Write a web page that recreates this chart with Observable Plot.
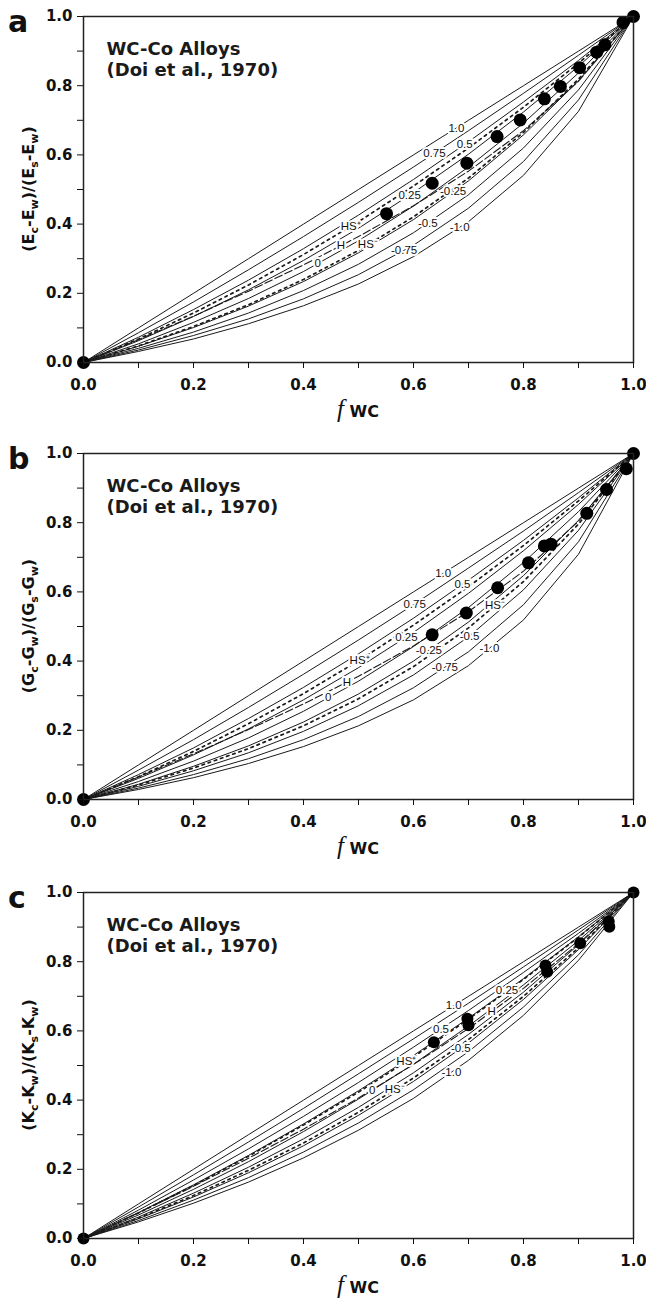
<!DOCTYPE html>
<html><head><meta charset="utf-8">
<script src="https://cdn.jsdelivr.net/npm/d3@7"></script>
<script src="https://cdn.jsdelivr.net/npm/@observablehq/plot@0.6"></script>
<style>
body{margin:0;background:#fff;}
#chart{width:646px;}
#chart svg{display:block;}
</style></head><body><div id="chart"></div>
<script>
// volume fraction of WC at which every curve is given
const fSteps = [0, 0.1, 0.2, 0.3, 0.4, 0.5, 0.6, 0.7, 0.8, 0.9, 1];
const curveKeys = ["1.0","0.75","0.5","0.25","0","-0.25","-0.5","-0.75","-1.0","HS+","H","HS-"];

// ---- panel a : Young's modulus, (Ec-Ew)/(Es-Ew)
const E_p100 = [0,0.100,0.200,0.300,0.400,0.500,0.600,0.700,0.800,0.900,1];
const E_p075 = [0,0.086,0.175,0.268,0.364,0.463,0.565,0.670,0.778,0.888,1];
const E_p050 = [0,0.073,0.153,0.238,0.329,0.426,0.529,0.638,0.753,0.873,1];
const E_p025 = [0,0.063,0.133,0.210,0.295,0.388,0.491,0.602,0.724,0.856,1];
const E_000  = [0,0.054,0.116,0.185,0.263,0.352,0.452,0.565,0.692,0.837,1];
const E_m025 = [0,0.047,0.101,0.163,0.234,0.317,0.413,0.525,0.658,0.814,1];
const E_m050 = [0,0.041,0.088,0.143,0.208,0.284,0.375,0.485,0.620,0.788,1];
const E_m075 = [0,0.036,0.078,0.126,0.184,0.254,0.339,0.446,0.581,0.759,1];
const E_m100 = [0,0.032,0.068,0.112,0.164,0.227,0.306,0.407,0.541,0.726,1];
const E_HSp  = [0,0.068,0.143,0.224,0.312,0.407,0.510,0.620,0.738,0.865,1];
const E_H    = [0,0.066,0.134,0.206,0.282,0.364,0.453,0.553,0.670,0.813,1];
const E_HSm  = [0,0.048,0.104,0.167,0.240,0.324,0.421,0.533,0.665,0.819,1];
const E_dotF = [0,0.551,0.634,0.697,0.752,0.794,0.838,0.867,0.902,0.933,0.948,0.981,1];
const E_dotV = [0,0.430,0.518,0.576,0.653,0.701,0.762,0.798,0.852,0.897,0.918,0.983,1];
const E_labText = ["1.0","0.75","0.5","0.25","-0.25","-0.5","-0.75","-1.0","HS\u207A","H","HS\u207B","0"];
const E_labKey  = ["1.0","0.75","0.5","0.25","-0.25","-0.5","-0.75","-1.0","HS+","H","HS-","0"];
const E_labF    = [0.678,0.638,0.693,0.593,0.672,0.626,0.583,0.684,0.486,0.468,0.517,0.426];

// ---- panel b : shear modulus, (Gc-Gw)/(Gs-Gw)
const G_p100 = [0,0.100,0.200,0.300,0.400,0.500,0.600,0.700,0.800,0.900,1];
const G_p075 = [0,0.085,0.173,0.266,0.362,0.461,0.563,0.669,0.776,0.887,1];
const G_p050 = [0,0.072,0.149,0.234,0.324,0.421,0.524,0.634,0.749,0.872,1];
const G_p025 = [0,0.061,0.129,0.204,0.288,0.381,0.483,0.596,0.719,0.853,1];
const G_000  = [0,0.052,0.111,0.178,0.255,0.342,0.442,0.555,0.685,0.832,1];
const G_m025 = [0,0.044,0.096,0.155,0.224,0.305,0.400,0.513,0.647,0.807,1];
const G_m050 = [0,0.038,0.083,0.135,0.197,0.271,0.360,0.470,0.606,0.778,1];
const G_m075 = [0,0.033,0.072,0.118,0.173,0.240,0.323,0.427,0.563,0.745,1];
const G_m100 = [0,0.029,0.063,0.104,0.153,0.213,0.288,0.387,0.519,0.709,1];
const G_HSp  = [0,0.066,0.139,0.219,0.306,0.401,0.504,0.615,0.734,0.863,1];
const G_H    = [0,0.065,0.132,0.202,0.276,0.356,0.444,0.543,0.660,0.804,1];
const G_HSm  = [0,0.042,0.091,0.147,0.213,0.291,0.384,0.496,0.630,0.796,1];
const G_dotF = [0,0.634,0.696,0.753,0.809,0.838,0.850,0.915,0.951,0.987,1];
const G_dotV = [0,0.476,0.539,0.612,0.684,0.733,0.738,0.827,0.896,0.956,1];
const G_labText = ["1.0","0.75","0.5","0.25","-0.25","-0.5","-0.75","-1.0","HS\u207A","H","HS\u207B","0"];
const G_labKey  = ["1.0","0.75","0.5","0.25","-0.25","-0.5","-0.75","-1.0","HS+","H","HS-","0"];
const G_labF    = [0.654,0.602,0.689,0.587,0.628,0.702,0.657,0.738,0.502,0.479,0.748,0.445];

// ---- panel c : bulk modulus, (Kc-Kw)/(Ks-Kw)
const K_p100 = [0,0.100,0.200,0.300,0.400,0.500,0.600,0.700,0.800,0.900,1];
const K_p075 = [0,0.091,0.184,0.279,0.376,0.476,0.577,0.680,0.785,0.892,1];
const K_p050 = [0,0.082,0.169,0.259,0.353,0.451,0.553,0.659,0.769,0.882,1];
const K_p025 = [0,0.075,0.155,0.240,0.331,0.427,0.529,0.637,0.751,0.872,1];
const K_000  = [0,0.068,0.142,0.222,0.309,0.403,0.504,0.614,0.733,0.861,1];
const K_m025 = [0,0.062,0.131,0.206,0.288,0.379,0.479,0.590,0.712,0.849,1];
const K_m050 = [0,0.057,0.120,0.190,0.268,0.356,0.454,0.565,0.691,0.835,1];
const K_m075 = [0,0.052,0.111,0.176,0.250,0.334,0.430,0.540,0.669,0.820,1];
const K_m100 = [0,0.048,0.102,0.163,0.233,0.313,0.405,0.515,0.645,0.804,1];
const K_HSp  = [0,0.074,0.153,0.238,0.328,0.423,0.525,0.634,0.749,0.871,1];
const K_H    = [0,0.074,0.151,0.232,0.316,0.406,0.503,0.607,0.723,0.852,1];
const K_HSm  = [0,0.059,0.124,0.197,0.276,0.365,0.464,0.575,0.700,0.840,1];
const K_dotF = [0,0.637,0.698,0.700,0.840,0.843,0.903,0.955,0.956,1];
const K_dotV = [0,0.567,0.635,0.616,0.789,0.771,0.853,0.916,0.901,1];
const K_labText = ["1.0","0.5","0.25","H","HS\u207A","0","HS\u207B","-0.5","-1.0"];
const K_labKey  = ["1.0","0.5","0.25","H","HS+","0","HS-","-0.5","-1.0"];
const K_labF    = [0.673,0.650,0.770,0.742,0.587,0.525,0.566,0.686,0.669];

const noteText = "WC-Co Alloys\n(Doi et al., 1970)";
const xTickMajor = [0, 0.2, 0.4, 0.6, 0.8, 1.0];
const xTickMinor = [0.1, 0.3, 0.5, 0.7, 0.9];

function interp(vals, f) {
  const i = Math.min(9, Math.floor(f * 10 + 1e-9));
  const t = f * 10 - i;
  return vals[i] + (vals[i + 1] - vals[i]) * t;
}

function buildPanel(cfg) {
  const curves = {};
  curveKeys.forEach((k, j) => curves[k] = cfg.curves[j]);
  const rows = curveKeys.flatMap(k => fSteps.map((f, i) => ({key: k, f, v: curves[k][i]})));
  const solid = rows.filter(d => !["HS+","HS-","H"].includes(d.key));
  const hs = rows.filter(d => d.key === "HS+" || d.key === "HS-");
  const hh = rows.filter(d => d.key === "H");
  const labels = cfg.labText.map((t, i) => ({t, f: cfg.labF[i], v: interp(curves[cfg.labKey[i]], cfg.labF[i])}));
  const dots = cfg.dotF.map((f, i) => ({f, v: cfg.dotV[i]}));
  const fmt = d => d.toFixed(1);
  const axisFont = {fontSize: 15, fontWeight: "bold", fontFamily: "DejaVu Sans"};

  const svg = Plot.plot({
    width: 646, height: cfg.height,
    marginLeft: 83, marginRight: 13, marginTop: cfg.mt, marginBottom: cfg.mb,
    x: {domain: [0, 1]}, y: {domain: [0, 1]},
    style: {fontFamily: "DejaVu Sans", color: "#111", background: "white"},
    marks: [
      Plot.line(solid, {x: "f", y: "v", z: "key", stroke: "#1a1a1a", strokeWidth: 1}),
      Plot.line(hs, {x: "f", y: "v", z: "key", stroke: "#1a1a1a", strokeWidth: 1.7, strokeDasharray: "2.5,4"}),
      Plot.line(hh, {x: "f", y: "v", z: "key", stroke: "#1a1a1a", strokeWidth: 1.1, strokeDasharray: "8,3"}),
      Plot.text(labels, {x: "f", y: "v", text: "t", fontSize: 11.5, fontFamily: "Liberation Sans, Arial, sans-serif",
        fill: "#111", stroke: "white", strokeWidth: 4, paintOrder: "stroke"}),
      Plot.dot(dots, {x: "f", y: "v", r: cfg.r, fill: "#000"}),
      Plot.frame({stroke: "#222", strokeWidth: 1.5}),
      Plot.axisX({ticks: xTickMajor, tickFormat: fmt, tickSize: 6, tickPadding: 11, label: null, ...axisFont}),
      Plot.axisX({ticks: xTickMinor, tickFormat: () => "", tickSize: 6, label: null}),
      Plot.axisY({ticks: xTickMajor, tickFormat: fmt, tickSize: 6, tickPadding: 5, label: null, ...axisFont}),
      Plot.axisY({ticks: xTickMinor, tickFormat: () => "", tickSize: 6, label: null}),
      Plot.text([noteText], {frameAnchor: "top-left", dx: 23, dy: 23, text: d => d, textAnchor: "start",
        lineAnchor: "top", lineHeight: 1.2, fontSize: 18, fontWeight: "bold", fontFamily: "DejaVu Sans", fill: "#1a1a1a"})
    ]
  });

  const s = d3.select(svg);
  const top = cfg.mt, bottom = cfg.height - cfg.mb;
  // panel letter
  s.append("text").attr("x", 8).attr("y", top + 16).attr("text-anchor", "start").attr("font-family", "DejaVu Sans")
    .attr("font-weight", "bold").attr("font-size", 30).attr("fill", "#111").text(cfg.letter);
  // y label with subscripts
  const yl = s.append("text")
    .attr("transform", `translate(34,${(top + bottom) / 2}) rotate(-90)`)
    .attr("text-anchor", "middle").attr("font-family", "DejaVu Sans").attr("font-weight", "bold")
    .attr("font-size", 16).attr("fill", "#111");
  let shift = 0;
  cfg.yParts.forEach(([txt, sub]) => {
    const want = sub ? 4 : 0;
    yl.append("tspan").attr("dy", want - shift).attr("font-size", sub ? 11 : 16).text(txt);
    shift = want;
  });
  // x label: italic f with WC
  const xl = s.append("text").attr("x", 358).attr("y", bottom + 55).attr("text-anchor", "middle").attr("fill", "#111");
  xl.append("tspan").attr("font-family", "Liberation Serif, DejaVu Serif, serif").attr("font-style", "italic")
    .attr("font-size", 25).text("f");
  xl.append("tspan").attr("font-family", "DejaVu Sans").attr("font-weight", "bold").attr("font-size", 16).text(" WC");
  return svg;
}

function sub(letter) {
  return [["(", 0], [letter, 0], ["c", 1], ["-" + letter, 0], ["w", 1], [")/(", 0],
          [letter, 0], ["s", 1], ["-" + letter, 0], ["w", 1], [")", 0]];
}

const chart = document.getElementById("chart");
chart.appendChild(buildPanel({
  letter: "a", height: 437, mt: 16, mb: 75, r: 6.5,
  curves: [E_p100, E_p075, E_p050, E_p025, E_000, E_m025, E_m050, E_m075, E_m100, E_HSp, E_H, E_HSm],
  dotF: E_dotF, dotV: E_dotV, labText: E_labText, labKey: E_labKey, labF: E_labF, yParts: sub("E")
}));
chart.appendChild(buildPanel({
  letter: "b", height: 437, mt: 16, mb: 75, r: 6.5,
  curves: [G_p100, G_p075, G_p050, G_p025, G_000, G_m025, G_m050, G_m075, G_m100, G_HSp, G_H, G_HSm],
  dotF: G_dotF, dotV: G_dotV, labText: G_labText, labKey: G_labKey, labF: G_labF, yParts: sub("G")
}));
chart.appendChild(buildPanel({
  letter: "c", height: 424, mt: 18, mb: 60, r: 6,
  curves: [K_p100, K_p075, K_p050, K_p025, K_000, K_m025, K_m050, K_m075, K_m100, K_HSp, K_H, K_HSm],
  dotF: K_dotF, dotV: K_dotV, labText: K_labText, labKey: K_labKey, labF: K_labF, yParts: sub("K")
}));
</script>
</body></html>
